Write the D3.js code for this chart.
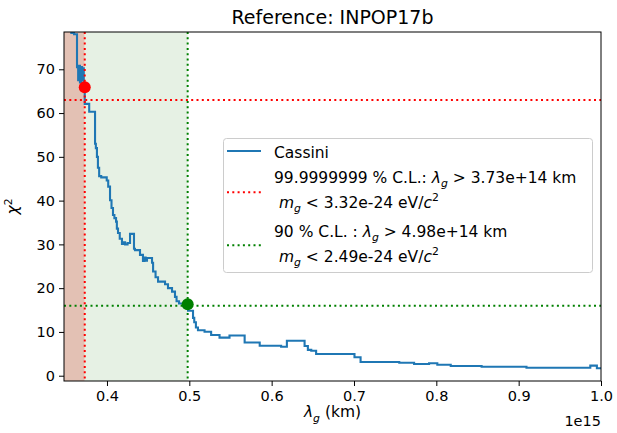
<!DOCTYPE html>
<html>
<head>
<meta charset="utf-8">
<script src="https://cdn.jsdelivr.net/npm/d3@7"></script>
<style>
  body { margin: 0; background: #fff; }
  text { font-family: "DejaVu Sans", sans-serif; fill: #000; }
</style>
</head>
<body>
<div id="chart"></div>
<script>
// lambda_g in units of 1e15 km, chi2 (step curve, value held until next lambda)
let lambda = [0.3500, 0.3567, 0.3600, 0.3636, 0.3650, 0.3660, 0.3672, 0.3685, 0.3697, 0.3710, 0.3718, 0.3725,
  0.3730, 0.3784, 0.3855, 0.3865, 0.3878, 0.3890, 0.3905, 0.3930, 0.3997, 0.4015, 0.4037, 0.4055, 0.4073,
  0.4090, 0.4110, 0.4120, 0.4134, 0.4155, 0.4182, 0.4200, 0.4220, 0.4250, 0.4280, 0.4328, 0.4340, 0.4401,
  0.4437, 0.4455, 0.4470, 0.4486, 0.4547, 0.4560, 0.4590, 0.4620, 0.4705, 0.4741, 0.4790, 0.4826, 0.4845,
  0.4875, 0.4985, 0.5045, 0.5060, 0.5080, 0.5105, 0.5185, 0.5265, 0.5367, 0.5488, 0.5672, 0.5855, 0.6115,
  0.6185, 0.6400, 0.6440, 0.6481, 0.6540, 0.7006, 0.7080, 0.7550, 0.7730, 0.7912, 0.8012, 0.8175, 0.8550,
  0.9095, 0.9870, 0.9950, 1.0000]
let chi2 = [82.0, 78.3, 78.0, 70.5, 67.5, 70.8, 67.0, 70.5, 67.5, 70.2, 66.8, 65.9,
  62.1, 60.3, 53.0, 52.0, 50.0, 47.5, 45.6, 45.3, 44.6, 43.2, 40.1, 38.3, 36.7,
  36.0, 35.2, 33.6, 32.6, 31.3, 30.1, 30.5, 30.0, 30.3, 32.4, 29.0, 28.7, 27.6,
  26.2, 27.0, 26.3, 26.9, 25.8, 23.8, 22.5, 21.5, 20.9, 20.0, 19.2, 18.0, 17.0,
  16.5, 14.85, 13.2, 12.2, 11.0, 10.4, 10.05, 9.3, 8.7, 9.2, 7.6, 6.85, 6.6,
  8.0, 6.8, 5.9, 5.7, 4.95, 4.2, 3.13, 2.97, 2.67, 2.83, 2.5, 2.2, 2.05,
  1.8, 2.3, 1.7, 1.7]

let limit999 = { lambda: 0.373, chi2: 63, point: 65.9 }
let limit90 = { lambda: 0.498, chi2: 16, point: 16.3 }
let xTicks = [0.4, 0.5, 0.6, 0.7, 0.8, 0.9, 1.0]
let yTicks = [0, 10, 20, 30, 40, 50, 60, 70]

let width = 617
let height = 433
let margin = { left: 64, right: 16, top: 32, bottom: 52 }
let innerW = width - margin.left - margin.right
let innerH = height - margin.top - margin.bottom

let xScale = d3.scaleLinear().domain([0.3478, 1.0]).range([0, innerW])
let yScale = d3.scaleLinear().domain([-1.21, 78.52]).range([innerH, 0])

let svg = d3.select('#chart').append('svg')
  .attr('width', width)
  .attr('height', height)

svg.append('defs').append('clipPath').attr('id', 'clip')
  .append('rect').attr('width', innerW).attr('height', innerH)

let g = svg.append('g').attr('transform', 'translate(' + margin.left + ',' + margin.top + ')')

// shaded regions
g.append('rect')
  .attr('x', 0).attr('y', 0)
  .attr('width', xScale(limit999.lambda))
  .attr('height', innerH)
  .attr('fill', '#e3c1b4')
g.append('rect')
  .attr('x', xScale(limit999.lambda)).attr('y', 0)
  .attr('width', xScale(limit90.lambda) - xScale(limit999.lambda))
  .attr('height', innerH)
  .attr('fill', '#e6f1e4')

let plot = g.append('g').attr('clip-path', 'url(#clip)')

let line = d3.line()
  .x((d, i) => xScale(lambda[i]))
  .y(d => yScale(d))
  .curve(d3.curveStepAfter)

plot.append('path')
  .datum(chi2)
  .attr('d', line)
  .attr('fill', 'none')
  .attr('stroke', '#1f77b4')
  .attr('stroke-width', 2.1)

// limit lines
let limits = [[limit999, 'red'], [limit90, 'green']]
limits.forEach(([l, c]) => {
  plot.append('line')
    .attr('x1', xScale(l.lambda)).attr('x2', xScale(l.lambda))
    .attr('y1', 0).attr('y2', innerH)
    .attr('stroke', c).attr('stroke-width', 2).attr('stroke-dasharray', '2,3.3')
  plot.append('line')
    .attr('x1', 0).attr('x2', innerW)
    .attr('y1', yScale(l.chi2)).attr('y2', yScale(l.chi2))
    .attr('stroke', c).attr('stroke-width', 2).attr('stroke-dasharray', '2,3.3')
  plot.append('circle')
    .attr('cx', xScale(l.lambda)).attr('cy', yScale(l.point))
    .attr('r', 6).attr('fill', c)
})

// frame
g.append('rect')
  .attr('width', innerW).attr('height', innerH)
  .attr('fill', 'none').attr('stroke', '#000').attr('stroke-width', 1)

// axes
let xAxis = g.append('g')
  .attr('transform', 'translate(0,' + innerH + ')')
  .call(d3.axisBottom(xScale).tickValues(xTicks).tickFormat(d3.format('.1f')).tickSize(5).tickPadding(5))
let yAxis = g.append('g')
  .call(d3.axisLeft(yScale).tickValues(yTicks).tickFormat(d3.format('d')).tickSize(5).tickPadding(4))
;[xAxis, yAxis].forEach(a => {
  a.select('.domain').remove()
  a.selectAll('text').style('font-size', '14.5px').attr('font-family', 'DejaVu Sans')
})

// rich text helper: segments with italic / sub / sup
function richText(sel, parts, size) {
  let shift = 0
  parts.forEach(p => {
    let ts = sel.append('tspan').text(p.t)
    let target = p.sub ? size * 0.3 : p.sup ? -size * 0.42 : 0
    if (target !== shift) { ts.attr('dy', target - shift); shift = target }
    if (p.i) ts.attr('font-style', 'italic')
    if (p.sub || p.sup) ts.attr('font-size', size * 0.7)
  })
}

// title
svg.append('text')
  .attr('x', margin.left + innerW / 2).attr('y', 24)
  .attr('text-anchor', 'middle')
  .style('font-size', '19px')
  .text('Reference: INPOP17b')

// x label
let xl = svg.append('text')
  .attr('x', margin.left + innerW / 2).attr('y', 417)
  .attr('text-anchor', 'middle')
  .style('font-size', '15.5px')
richText(xl, [{ t: 'λ', i: true }, { t: 'g', i: true, sub: true }, { t: ' (km)' }], 15.5)

svg.append('text')
  .attr('x', margin.left + innerW).attr('y', 426)
  .attr('text-anchor', 'end')
  .style('font-size', '14.5px')
  .text('1e15')

// y label
let yl = svg.append('text')
  .attr('transform', 'translate(18,' + (margin.top + innerH / 2) + ') rotate(-90)')
  .attr('text-anchor', 'middle')
  .style('font-size', '15.5px')
richText(yl, [{ t: 'χ', i: true }, { t: '2', sup: true }], 15.5)

// legend
let lg = svg.append('g')
lg.append('rect')
  .attr('x', 223.5).attr('y', 138.5).attr('width', 369).attr('height', 134).attr('rx', 3)
  .attr('fill', 'rgba(255,255,255,0.8)').attr('stroke', '#cccccc').attr('stroke-width', 1)

let items = [
  { y: 151, color: '#1f77b4', dash: null, lines: [[{ t: 'Cassini' }]], base: [157.7] },
  { y: 192.3, color: 'red', dash: '2,3.3', base: [182.7, 207.7], lines: [
    [{ t: '99.9999999 % C.L.: ' }, { t: 'λ', i: true }, { t: 'g', i: true, sub: true }, { t: ' > 3.73e+14 km' }],
    [{ t: '\u00a0' }, { t: 'm', i: true }, { t: 'g', i: true, sub: true }, { t: ' < 3.32e-24 eV/' }, { t: 'c', i: true }, { t: '2', sup: true }]
  ] },
  { y: 245.3, color: 'green', dash: '2,3.3', base: [236.7, 261.7], lines: [
    [{ t: '90 % C.L. : ' }, { t: 'λ', i: true }, { t: 'g', i: true, sub: true }, { t: ' > 4.98e+14 km' }],
    [{ t: '\u00a0' }, { t: 'm', i: true }, { t: 'g', i: true, sub: true }, { t: ' < 2.49e-24 eV/' }, { t: 'c', i: true }, { t: '2', sup: true }]
  ] }
]
items.forEach(it => {
  lg.append('line')
    .attr('x1', 227).attr('x2', 261).attr('y1', it.y).attr('y2', it.y)
    .attr('stroke', it.color).attr('stroke-width', 2)
    .attr('stroke-dasharray', it.dash)
  it.lines.forEach((parts, k) => {
    let t = lg.append('text').attr('x', 274).attr('y', it.base[k]).style('font-size', '15.5px')
    richText(t, parts, 15.5)
  })
})
</script>
</body>
</html>
